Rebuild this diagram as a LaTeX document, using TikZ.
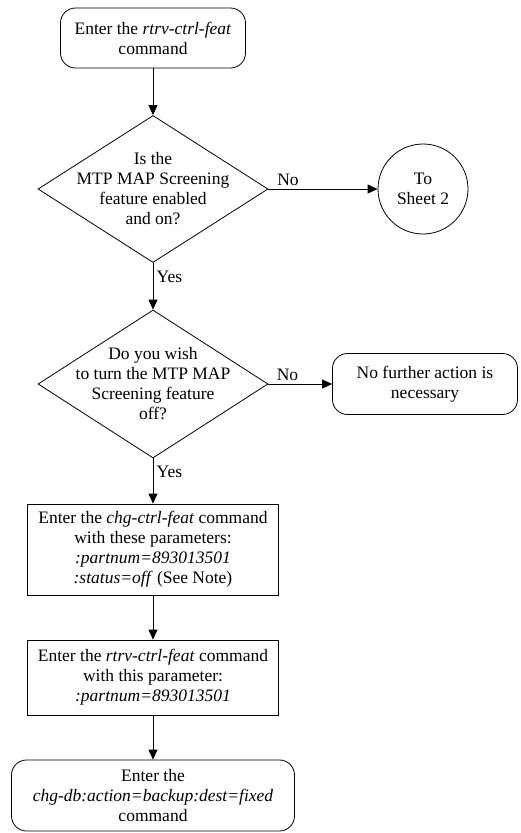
\documentclass[tikz,border=0pt]{standalone}
\usepackage{fontspec}
\setmainfont{Liberation Serif}
\usetikzlibrary{shapes.geometric, arrows.meta}

\begin{document}
\begin{tikzpicture}[x=1pt, y=-1pt, >={Triangle[length=10pt, width=9pt]},
        every node/.style={font=\fontsize{17.5}{20}\selectfont, align=center},
        flow/.style={draw, line width=0.8pt, ->},
        terminal/.style={draw, line width=0.8pt, rounded corners=15pt, inner sep=2pt},
        decision/.style={draw, line width=0.8pt, diamond, aspect=1.57, inner sep=-20pt},
        process/.style={draw, line width=0.8pt, rectangle, inner sep=2pt}]
        \useasboundingbox (0,0) rectangle (520,833);

        % --- Bắt đầu: rtrv-ctrl-feat ---
        \node[terminal, minimum width=185, minimum height=60] (start) at (153,38)
            {Enter the \textit{rtrv-ctrl-feat}\\command};

        % --- Câu hỏi 1 và nhánh No ---
        \node[decision, minimum width=230, minimum height=147] (q1) at (153,189)
            {Is the\\MTP MAP Screening\\feature enabled\\and on?};
        \node[draw, line width=0.8pt, circle, minimum size=90, inner sep=0pt] (sheet) at (423,189)
            {To\\Sheet 2};

        % --- Câu hỏi 2 và nhánh No ---
        \node[decision, minimum width=230, minimum height=148] (q2) at (153,384)
            {Do you wish\\to turn the MTP MAP\\Screening feature\\off?};
        \node[terminal, minimum width=185, minimum height=61] (stop) at (425,384)
            {No further action is\\necessary};

        % --- Các lệnh ---
        \node[process, minimum width=251, minimum height=91] (chg) at (153,549.5)
            {Enter the \textit{chg-ctrl-feat} command\\with these parameters:\\
             \textit{:partnum=893013501}\\\textit{:status=off} (See Note)};
        \node[process, minimum width=251, minimum height=75] (rtrv) at (153,677.5)
            {Enter the \textit{rtrv-ctrl-feat} command\\with this parameter:\\
             \textit{:partnum=893013501}};
        \node[terminal, minimum width=283, minimum height=71] (backup) at (153,795.5)
            {Enter the\\\textit{chg-db:action=backup:dest=fixed}\\command};

        % --- Mũi tên ---
        \draw[flow] (start) -- (q1);
        \draw[flow] (q1.east) -- node[pos=0.18, above] {No} (sheet.west);
        \draw[flow] (q1.south) -- node[pos=0.3, right] {Yes} (q2.north);
        \draw[flow] (q2.east) -- node[pos=0.3, above] {No} (stop.west);
        \draw[flow] (q2.south) -- node[pos=0.3, right] {Yes} (chg.north);
        \draw[flow] (chg) -- (rtrv);
        \draw[flow] (rtrv) -- (backup);
    \end{tikzpicture}
\end{document}
